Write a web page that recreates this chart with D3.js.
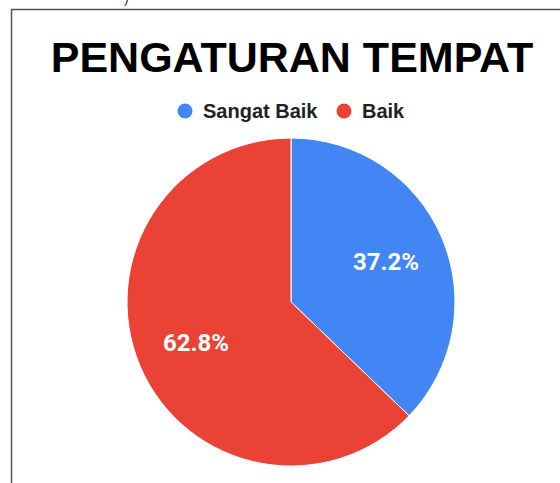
<!DOCTYPE html>
<html lang="en">

<head>
    <meta charset="UTF-8">
    <title>Pengaturan Tempat</title>
    <script src="https://unpkg.com/d3@7.8.0/dist/d3.min.js"></script>
    <style>
        body {
            margin: 0px;
            background: #fff;
        }
    </style>
</head>

<body>
    <script>
        const categories = ['Sangat Baik', 'Baik'];
        const values = [37.2, 62.8];
        const colors = ['#4285F4', '#EA4335'];

        const width = 560;
        const height = 483;

        const svg = d3.select('body').append('svg')
            .attr('width', width)
            .attr('height', height);

        // frame (only top and left edges visible in crop)
        svg.append('path')
            .attr('d', `M11.5,${height} L11.5,9.5 L${width},9.5`)
            .attr('fill', 'none')
            .attr('stroke', '#555')
            .attr('stroke-width', 1.5);

        // tail of text cut off above the frame
        svg.append('text')
            .attr('x', 124)
            .attr('y', 3)
            .style('font-family', 'Liberation Sans, Arial, sans-serif')
            .style('font-size', '14px')
            .attr('fill', '#333')
            .text(')');

        // title
        svg.append('text')
            .attr('x', 292)
            .attr('y', 72)
            .attr('text-anchor', 'middle')
            .style('font-family', 'Liberation Sans, Arial, sans-serif')
            .style('font-weight', 'bold')
            .style('font-size', '43px')
            .attr('fill', '#000')
            .text('PENGATURAN TEMPAT');

        // legend
        const legendX = [185, 344];
        const legend = svg.append('g').attr('class', 'legend');
        const item = legend.selectAll('g').data(categories).enter().append('g')
            .attr('transform', (d, i) => `translate(${legendX[i]}, 111)`);
        item.append('circle')
            .attr('r', 7.5)
            .attr('fill', (d, i) => colors[i]);
        item.append('text')
            .attr('x', 18)
            .attr('y', 7)
            .style('font-family', 'Liberation Sans, Arial, sans-serif')
            .style('font-weight', 'bold')
            .style('font-size', '20px')
            .attr('fill', '#222')
            .text(d => d);

        // pie
        const cx = 291, cy = 302, radius = 164;
        const pie = d3.pie().sort(null).value(d => d);
        const arcs = pie(values);
        const arc = d3.arc().innerRadius(0).outerRadius(radius);
        const labelArc = d3.arc().innerRadius(radius * 0.63).outerRadius(radius * 0.63);

        const g = svg.append('g').attr('transform', `translate(${cx}, ${cy})`);
        g.selectAll('path').data(arcs).enter().append('path')
            .attr('d', arc)
            .attr('fill', (d, i) => colors[i])
            .attr('stroke', '#fff')
            .attr('stroke-width', 1);

        g.selectAll('.slice-label').data(arcs).enter().append('text')
            .attr('class', 'slice-label')
            .attr('transform', d => `translate(${labelArc.centroid(d)})`)
            .attr('text-anchor', 'middle')
            .attr('dy', '0.36em')
            .style('font-family', 'Roboto, sans-serif')
            .style('font-weight', 'bold')
            .style('font-size', '24px')
            .attr('fill', '#fff')
            .text(d => d.data.toFixed(1) + '%');
    </script>
</body>

</html>
